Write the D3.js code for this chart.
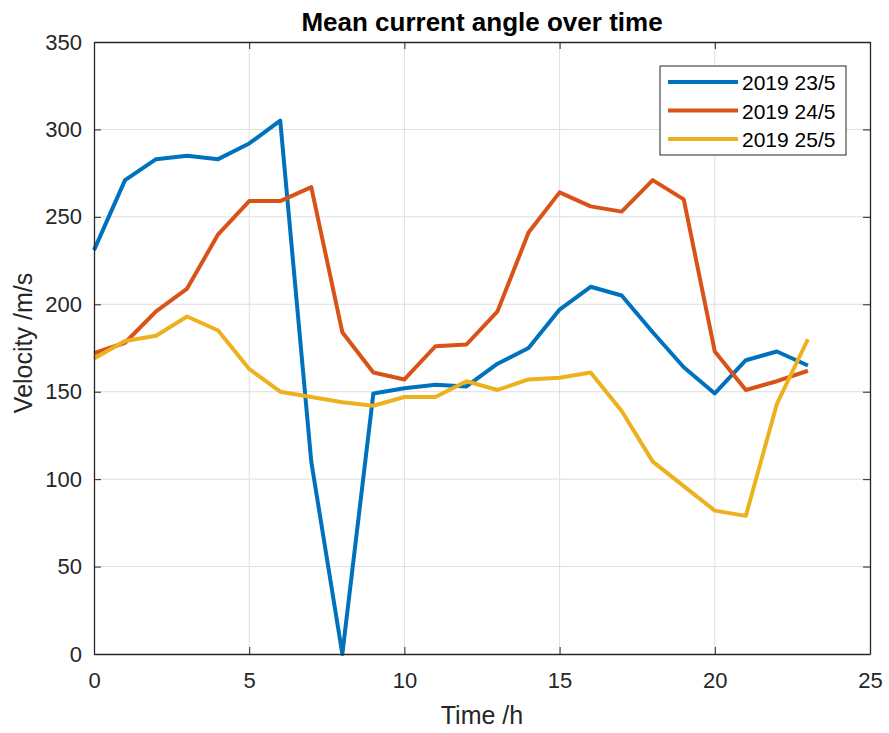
<!DOCTYPE html>
<html>
<head>
<meta charset="utf-8">
<script src="https://cdn.jsdelivr.net/npm/d3@7"></script>
<style>
  body { margin: 0; background: #fff; }
  text { font-family: "Liberation Sans", Arial, sans-serif; }
</style>
</head>
<body>
<svg id="chart" width="889" height="733"></svg>
<script>
// hours 0..23
const hours = d3.range(0, 24);
const seriesNames = ["2019 23/5", "2019 24/5", "2019 25/5"];
const colors = ["#0072BD", "#D95319", "#EDB120"];

const day23 = [231, 271, 283, 285, 283, 292, 305, 110, 0, 149, 152, 154,
               153, 166, 175, 197, 210, 205, 184, 164, 149, 168, 173, 165];
const day24 = [172, 178, 196, 209, 240, 259, 259, 267, 184, 161, 157, 176,
               177, 196, 241, 264, 256, 253, 271, 260, 173, 151, 156, 162];
const day25 = [169, 179, 182, 193, 185, 163, 150, 147, 144, 142, 147, 147,
               156, 151, 157, 158, 161, 139, 110, 96, 82, 79, 143, 180];

const xTicks = [0, 5, 10, 15, 20, 25];
const yTicks = [0, 50, 100, 150, 200, 250, 300, 350];

const svg = d3.select("#chart");
const plotL = 94, plotR = 870, plotT = 42, plotB = 654;

const x = d3.scaleLinear().domain([0, 25]).range([plotL, plotR]);
const y = d3.scaleLinear().domain([0, 350]).range([plotB, plotT]);

// grid
const grid = svg.append("g").attr("stroke", "#dedede").attr("stroke-width", 1);
grid.selectAll(".gx").data(xTicks.slice(1, -1)).join("line")
  .attr("x1", d => x(d)).attr("x2", d => x(d)).attr("y1", plotT).attr("y2", plotB);
grid.selectAll(".gy").data(yTicks.slice(1, -1)).join("line")
  .attr("y1", d => y(d)).attr("y2", d => y(d)).attr("x1", plotL).attr("x2", plotR);

// lines
const line = d3.line().x((d, i) => x(hours[i])).y(d => y(d));
[day23, day24, day25].forEach((s, k) => {
  svg.append("path").datum(s)
    .attr("fill", "none").attr("stroke", colors[k])
    .attr("stroke-width", 4).attr("stroke-linejoin", "round")
    .attr("d", line);
});

// axes (ticks inside, box)
const axisColor = "#262626";
svg.append("g").attr("transform", `translate(0,${plotB})`)
  .call(d3.axisBottom(x).tickValues(xTicks).tickSizeInner(-7).tickSizeOuter(0).tickPadding(18));
svg.append("g").attr("transform", `translate(${plotL},0)`)
  .call(d3.axisLeft(y).tickValues(yTicks).tickSizeInner(-7).tickSizeOuter(0).tickPadding(12));
svg.append("g").attr("transform", `translate(0,${plotT})`)
  .call(d3.axisTop(x).tickValues(xTicks).tickSizeInner(-7).tickSizeOuter(0).tickFormat(""));
svg.append("g").attr("transform", `translate(${plotR},0)`)
  .call(d3.axisRight(y).tickValues(yTicks).tickSizeInner(-7).tickSizeOuter(0).tickFormat(""));

svg.selectAll(".domain").attr("stroke", axisColor).attr("stroke-width", 1.3);
svg.selectAll(".tick line").attr("stroke", axisColor);
svg.selectAll(".tick text").attr("fill", axisColor)
  .style("font-family", "'Liberation Sans', Arial, sans-serif").style("font-size", "22px");

// title and labels
svg.append("text").attr("x", 482).attr("y", 31)
  .attr("text-anchor", "middle").attr("font-weight", "bold").attr("font-size", 26)
  .attr("fill", "#000").text("Mean current angle over time");
svg.append("text").attr("x", 482).attr("y", 724)
  .attr("text-anchor", "middle").attr("font-size", 25).attr("fill", axisColor)
  .text("Time /h");
svg.append("text").attr("transform", `translate(32,343) rotate(-90)`)
  .attr("text-anchor", "middle").attr("font-size", 25).attr("fill", axisColor)
  .text("Velocity /m/s");

// legend
const lg = svg.append("g");
lg.append("rect").attr("x", 660).attr("y", 66).attr("width", 186).attr("height", 89)
  .attr("fill", "#fff").attr("stroke", axisColor).attr("stroke-width", 1);
seriesNames.forEach((name, k) => {
  const yy = 82 + k * 28.5;
  lg.append("line").attr("x1", 668).attr("x2", 738).attr("y1", yy).attr("y2", yy)
    .attr("stroke", colors[k]).attr("stroke-width", 4);
  lg.append("text").attr("x", 742).attr("y", yy + 8).attr("font-size", 21)
    .attr("fill", "#000").text(name);
});
</script>
</body>
</html>
